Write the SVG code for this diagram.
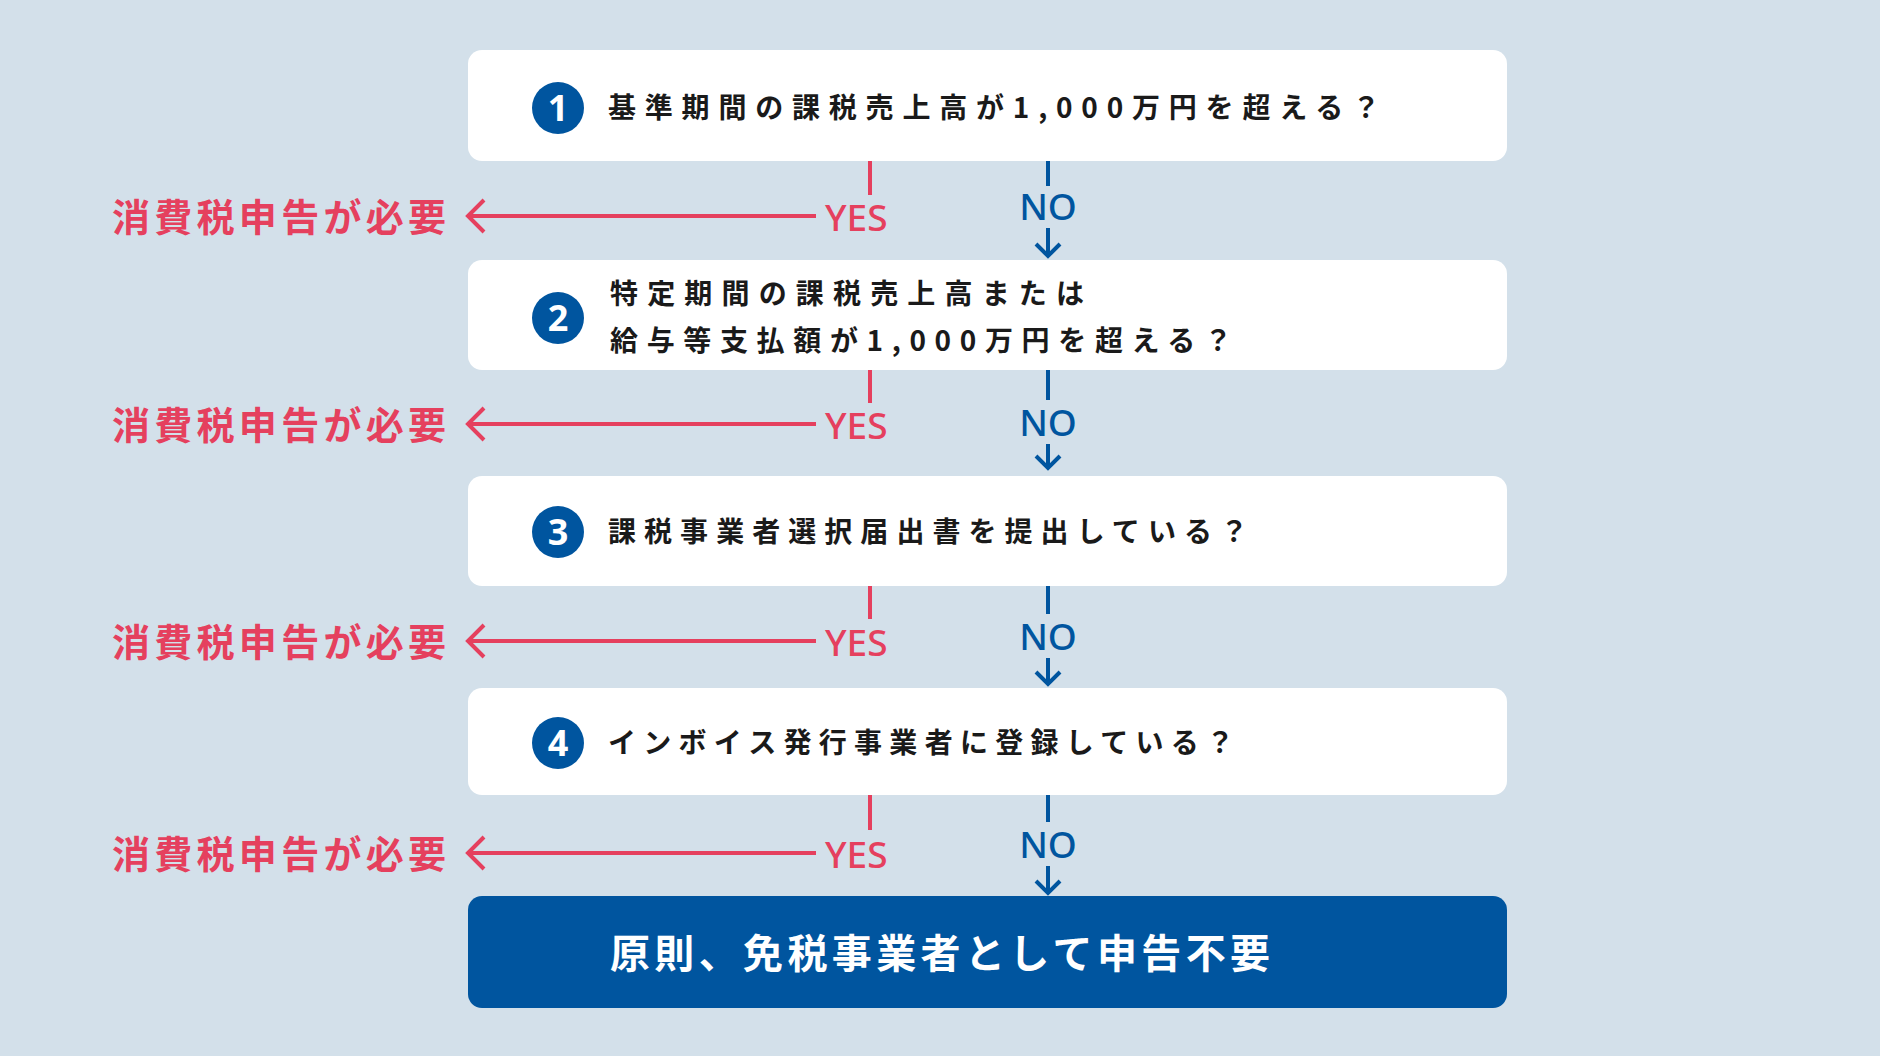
<svg xmlns="http://www.w3.org/2000/svg" width="1880" height="1056" viewBox="0 0 1880 1056">
<style>
.box{fill:#fff}
.q{font-family:"Noto Sans CJK JP","Noto Sans",sans-serif;font-weight:700;font-size:28px;fill:#1a1a1a}
.num{font-family:"Noto Sans","Liberation Sans",sans-serif;font-weight:700;font-size:36px;fill:#fff;text-anchor:middle}
.yes{font-family:"Noto Sans","Liberation Sans",sans-serif;font-weight:500;font-size:37px;fill:#e5405e}
.no{font-family:"Noto Sans","Liberation Sans",sans-serif;font-weight:500;font-size:37px;fill:#00559f;text-anchor:middle}
.need{font-family:"Noto Sans CJK JP",sans-serif;font-weight:700;font-size:38px;fill:#e5405e}
.r{stroke:#e5405e;stroke-width:4;fill:none}
.b{stroke:#00559f;stroke-width:4;fill:none}
</style>
<rect width="1880" height="1056" fill="#d3e0ea"/>
<g id="q1"><rect class="box" x="468" y="50" width="1039" height="111" rx="14"/><circle cx="558" cy="108" r="26" fill="#00559f"/><text class="num" x="558" y="121">1</text><text class="q" x="608" y="118" textLength="772" lengthAdjust="spacing">基準期間の課税売上高が1,000万円を超える？</text></g>
<g id="q2"><rect class="box" x="468" y="260" width="1039" height="110" rx="14"/><circle cx="558" cy="318" r="26" fill="#00559f"/><text class="num" x="558" y="331">2</text><text class="q" x="610" y="304" textLength="474" lengthAdjust="spacing">特定期間の課税売上高または</text><text class="q" x="610" y="351" textLength="622" lengthAdjust="spacing">給与等支払額が1,000万円を超える？</text></g>
<g id="q3"><rect class="box" x="468" y="476" width="1039" height="110" rx="14"/><circle cx="558" cy="532" r="26" fill="#00559f"/><text class="num" x="558" y="545">3</text><text class="q" x="608" y="542" textLength="640" lengthAdjust="spacing">課税事業者選択届出書を提出している？</text></g>
<g id="q4"><rect class="box" x="468" y="688" width="1039" height="107" rx="14"/><circle cx="558" cy="743" r="26" fill="#00559f"/><text class="num" x="558" y="756">4</text><text class="q" x="608" y="753" textLength="626" lengthAdjust="spacing">インボイス発行事業者に登録している？</text></g>
<g id="result"><rect x="468" y="896" width="1039" height="112" rx="14" fill="#00559f"/><text x="610" y="968" font-family="Noto Sans CJK JP,sans-serif" font-weight="700" font-size="40" fill="#fff" textLength="660" lengthAdjust="spacing">原則、免税事業者として申告不要</text></g>
<g id="connectors">
<g id="row1"><path class="r" d="M870 161V195M816 216H468M484 200L468 216L484 232"/><text class="yes" x="825" y="231">YES</text><path class="b" d="M1048 161V186M1048 228V256M1036 244L1048 256L1060 244"/><text class="no" x="1048" y="220">NO</text><text class="need" x="112" y="231" textLength="334" lengthAdjust="spacing">消費税申告が必要</text></g>
<g id="row2"><path class="r" d="M870 370V403M816 424H468M484 408L468 424L484 440"/><text class="yes" x="825" y="439">YES</text><path class="b" d="M1048 370V400M1048 444V468M1036 456L1048 468L1060 456"/><text class="no" x="1048" y="436">NO</text><text class="need" x="112" y="439" textLength="334" lengthAdjust="spacing">消費税申告が必要</text></g>
<g id="row3"><path class="r" d="M870 586V619M816 641H468M484 625L468 641L484 657"/><text class="yes" x="825" y="656">YES</text><path class="b" d="M1048 586V614M1048 658V684M1036 672L1048 684L1060 672"/><text class="no" x="1048" y="650">NO</text><text class="need" x="112" y="656" textLength="334" lengthAdjust="spacing">消費税申告が必要</text></g>
<g id="row4"><path class="r" d="M870 795V830M816 853H468M484 837L468 853L484 869"/><text class="yes" x="825" y="868">YES</text><path class="b" d="M1048 795V822M1048 866V893M1036 881L1048 893L1060 881"/><text class="no" x="1048" y="858">NO</text><text class="need" x="112" y="868" textLength="334" lengthAdjust="spacing">消費税申告が必要</text></g>
</g>
</svg>
